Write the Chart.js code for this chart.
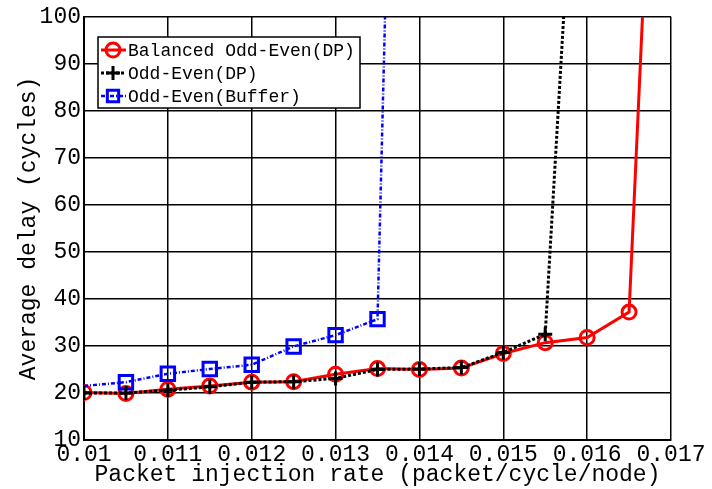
<!DOCTYPE html>
<html>
<head>
<meta charset="utf-8">
<script src="https://cdn.jsdelivr.net/npm/chart.js@4.4.1/dist/chart.umd.min.js"></script>
<style>
  html, body { margin: 0; padding: 0; background: #fff; }
  #wrap { width: 712px; height: 489px; }
</style>
</head>
<body>
<div id="wrap"><canvas id="chart"></canvas></div>
<script>
// values
const xTickLabels = ["0.01", "0.011", "0.012", "0.013", "0.014", "0.015", "0.016", "0.017"];
const yTickLabels = ["10", "20", "30", "40", "50", "60", "70", "80", "90", "100"];

const balancedRate = [0.01, 0.0105, 0.011, 0.0115, 0.012, 0.0125, 0.013, 0.0135, 0.014, 0.0145, 0.015, 0.0155, 0.016, 0.0165, 0.01666];
const balancedDelay = [20.1, 19.9, 20.8, 21.5, 22.3, 22.4, 24.0, 25.2, 25.0, 25.3, 28.4, 30.7, 31.8, 37.2, 100];

const oddEvenRate = [0.01, 0.0105, 0.011, 0.0115, 0.012, 0.0125, 0.013, 0.0135, 0.014, 0.0145, 0.015, 0.0155, 0.01572];
const oddEvenDelay = [20.0, 20.0, 20.6, 21.3, 22.3, 22.4, 23.1, 25.0, 25.1, 25.4, 28.6, 32.5, 100];

const bufferRate = [0.01, 0.0105, 0.011, 0.0115, 0.012, 0.0125, 0.013, 0.0135, 0.01359];
const bufferDelay = [21.5, 22.3, 24.1, 25.1, 26.0, 29.9, 32.3, 35.7, 100];

const FONT = "'Liberation Mono', 'DejaVu Sans Mono', monospace";

function pts(xs, ys) {
  return xs.map((x, i) => ({ x: x, y: ys[i] }));
}
// no marker on the points that leave the top of the plot
function radii(ys, r, skipFirst) {
  return ys.map((y, i) => (y >= 100 || (skipFirst && i === 0)) ? 0 : r);
}

const insideLegend = {
  id: "insideLegend",
  afterDraw(chart) {
    const ctx = chart.ctx;
    const bx = 98, by = 37, bw = 262, bh = 71;
    ctx.save();
    ctx.fillStyle = "#fff";
    ctx.fillRect(bx, by, bw, bh);
    ctx.lineWidth = 1.5;
    ctx.strokeStyle = "#000";
    ctx.strokeRect(bx, by, bw, bh);
    const rows = [50, 73, 96];
    chart.data.datasets.forEach((ds, i) => {
      const y = rows[i];
      ctx.save();
      ctx.strokeStyle = ds.borderColor;
      ctx.lineWidth = ds.borderWidth;
      ctx.setLineDash(ds.borderDash || []);
      ctx.beginPath();
      ctx.moveTo(101, y);
      ctx.lineTo(126, y);
      ctx.stroke();
      ctx.restore();

      ctx.save();
      ctx.strokeStyle = ds.pointBorderColor;
      ctx.fillStyle = "rgba(255,255,255,0)";
      ctx.lineWidth = ds.pointBorderWidth;
      ctx.setLineDash([]);
      Chart.helpers.drawPoint(ctx, {
        pointStyle: ds.pointStyle,
        radius: ds.legendRadius,
        borderWidth: ds.pointBorderWidth,
        rotation: 0
      }, 113, y);
      ctx.restore();

      ctx.fillStyle = "#000";
      ctx.font = "18px " + FONT;
      ctx.textBaseline = "middle";
      ctx.fillText(ds.label, 128, y + 1);
    });
    ctx.restore();
  }
};

new Chart(document.getElementById("chart"), {
  type: "line",
  data: {
    datasets: [
      {
        label: "Balanced Odd-Even(DP)",
        data: pts(balancedRate, balancedDelay),
        borderColor: "#ff0000",
        backgroundColor: "rgba(255,255,255,0)",
        borderWidth: 3,
        pointStyle: "circle",
        pointRadius: radii(balancedDelay, 7),
        legendRadius: 7,
        pointBorderWidth: 3,
        pointBorderColor: "#ff0000",
        pointBackgroundColor: "rgba(255,255,255,0)",
        order: 3
      },
      {
        label: "Odd-Even(DP)",
        data: pts(oddEvenRate, oddEvenDelay),
        borderColor: "#000000",
        backgroundColor: "#000000",
        borderWidth: 3,
        borderDash: [3, 2],
        pointStyle: "cross",
        pointRadius: radii(oddEvenDelay, 7),
        legendRadius: 7,
        pointBorderWidth: 3,
        pointBorderColor: "#000000",
        order: 1
      },
      {
        label: "Odd-Even(Buffer)",
        data: pts(bufferRate, bufferDelay),
        borderColor: "#0000ff",
        backgroundColor: "rgba(255,255,255,0)",
        borderWidth: 2.5,
        borderDash: [4, 2, 1, 2],
        pointStyle: "rect",
        pointRadius: radii(bufferDelay, 9.5, true),
        legendRadius: 8,
        pointBorderWidth: 3,
        pointBorderColor: "#0000ff",
        pointBackgroundColor: "rgba(255,255,255,0)",
        order: 2
      }
    ]
  },
  plugins: [insideLegend],
  options: {
    responsive: true,
    maintainAspectRatio: false,
    animation: false,
    layout: { padding: { top: 13, right: 41, left: 15, bottom: 0 } },
    plugins: {
      legend: { display: false },
      tooltip: { enabled: false }
    },
    scales: {
      x: {
        type: "linear",
        min: 0.01,
        max: 0.017,
        afterBuildTicks(axis) {
          axis.ticks = xTickLabels.map(v => ({ value: parseFloat(v) }));
        },
        afterFit(axis) { axis.height = 49; },
        ticks: {
          color: "#000",
          font: { family: FONT, size: 23 },
          padding: 1,
          maxRotation: 0,
          autoSkip: false,
          callback: (v, i) => xTickLabels[i]
        },
        grid: { color: "#000", lineWidth: 1.5, drawTicks: false },
        border: { color: "#000", width: 2 },
        title: {
          display: true,
          text: "Packet injection rate (packet/cycle/node)",
          color: "#000",
          font: { family: FONT, size: 23 },
          padding: { top: 0, bottom: 0 }
        }
      },
      y: {
        min: 10,
        max: 100,
        afterBuildTicks(axis) {
          axis.ticks = yTickLabels.map(v => ({ value: parseFloat(v) }));
        },
        afterFit(axis) { axis.width = 69; },
        ticks: {
          color: "#000",
          font: { family: FONT, size: 23 },
          padding: 3,
          autoSkip: false,
          callback: (v, i) => yTickLabels[i]
        },
        grid: { color: "#000", lineWidth: 1.5, drawTicks: false },
        border: { color: "#000", width: 2 },
        title: {
          display: true,
          text: "Average delay (cycles)",
          color: "#000",
          font: { family: FONT, size: 23 },
          padding: { top: 0, bottom: 0 }
        }
      }
    }
  }
});
</script>
</body>
</html>
